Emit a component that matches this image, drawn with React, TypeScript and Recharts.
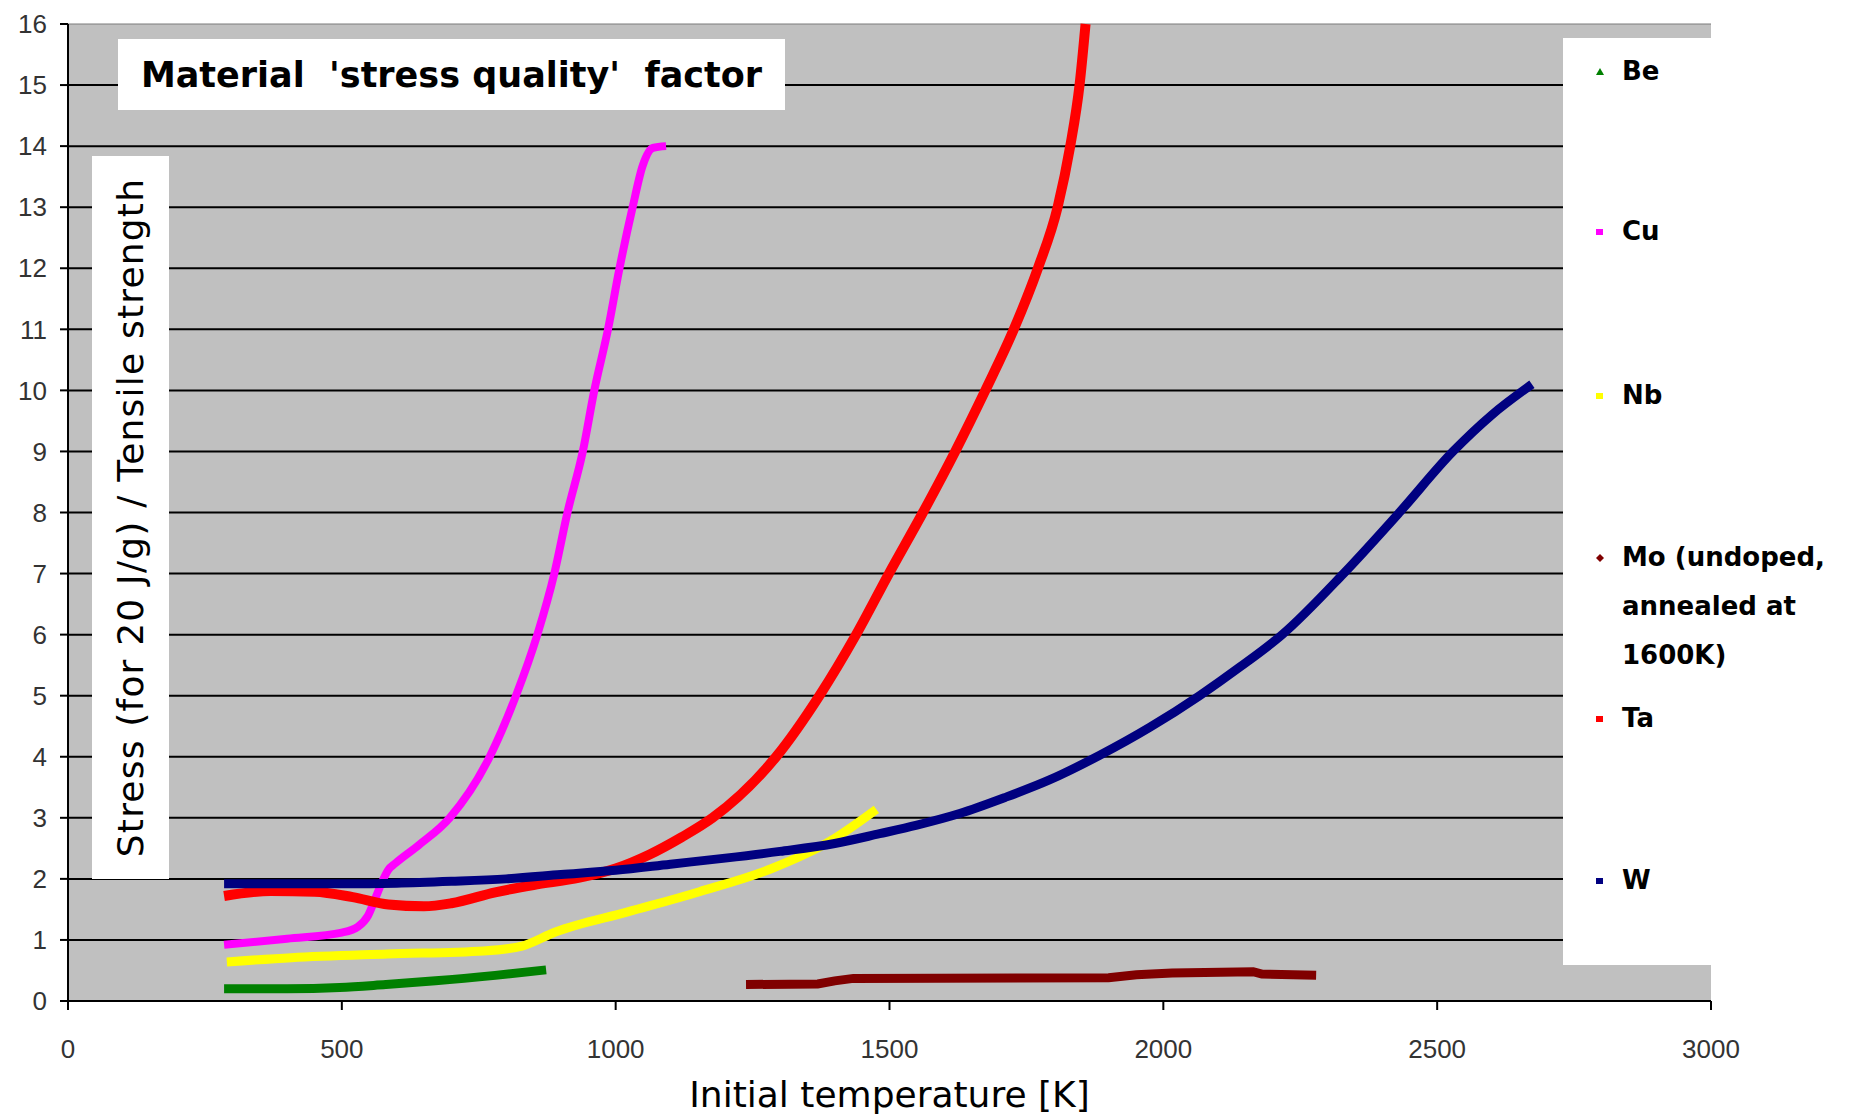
import React from 'react'
import { LineChart, Line, XAxis, YAxis, CartesianGrid, ReferenceLine, Label } from 'recharts'

// ─── Data (temperature K, stress / tensile strength) ──────────────────────────

const xTicks = [0, 500, 1000, 1500, 2000, 2500, 3000]
const yTicks = [0, 1, 2, 3, 4, 5, 6, 7, 8, 9, 10, 11, 12, 13, 14, 15, 16]
const gridLines = [1, 2, 3, 4, 5, 6, 7, 8, 9, 10, 11, 12, 13, 14, 15]

const bePoints: [number, number][] = [
  [285, 0.2], [400, 0.2], [496, 0.22], [580, 0.27], [671, 0.33], [780, 0.42], [873, 0.51],
]

const cuPoints: [number, number][] = [
  [285, 0.92], [400, 1.02], [500, 1.12], [530, 1.22], [548, 1.4], [562, 1.7], [575, 1.98],
  [585, 2.15], [597, 2.25], [640, 2.55], [697, 3.0], [770, 4.0], [818, 5.0], [857, 6.0],
  [888, 7.0], [912, 8.0], [940, 9.0], [961, 10.0], [986, 11.0], [1007, 12.0], [1031, 13.0],
  [1049, 13.67], [1068, 13.97], [1092, 14.0],
]

const nbPoints: [number, number][] = [
  [290, 0.64], [408, 0.71], [583, 0.77], [759, 0.82], [829, 0.9], [890, 1.13], [1022, 1.46],
  [1153, 1.79], [1285, 2.17], [1390, 2.61], [1476, 3.14],
]

const moPoints: [number, number][] = [
  [1238, 0.27], [1369, 0.28], [1400, 0.33], [1434, 0.37], [1900, 0.38], [1951, 0.43],
  [2016, 0.46], [2164, 0.48], [2180, 0.44], [2279, 0.42],
]

const taPoints: [number, number][] = [
  [285, 1.72], [370, 1.8], [450, 1.79], [520, 1.7], [585, 1.58], [650, 1.55], [700, 1.6],
  [780, 1.78], [850, 1.9], [934, 2.02], [1000, 2.17], [1062, 2.4], [1120, 2.68], [1177, 3.0],
  [1293, 4.0], [1372, 5.0], [1439, 6.0], [1499, 7.0], [1561, 8.0], [1620, 9.0], [1675, 10.0],
  [1727, 11.0], [1771, 12.0], [1807, 13.0], [1830, 14.0], [1847, 15.0], [1858, 16.0],
]

const wPoints: [number, number][] = [
  [285, 1.92], [500, 1.92], [600, 1.93], [700, 1.96], [800, 2.0], [900, 2.07], [1000, 2.14],
  [1100, 2.24], [1200, 2.34], [1300, 2.45], [1400, 2.58], [1482, 2.74], [1550, 2.88],
  [1628, 3.07], [1710, 3.33], [1792, 3.62], [1883, 4.02], [1975, 4.48], [2066, 5.0],
  [2140, 5.47], [2217, 6.0], [2329, 7.0], [2431, 8.0], [2529, 9.0], [2600, 9.6], [2673, 10.1],
]

const toRows = (pts: [number, number][]) => pts.map(([t, v]) => ({ t, v }))

const COMIC = "'Comic Sans MS', 'DejaVu Sans', sans-serif"
const TICK_FONT = "'Liberation Sans', Arial, sans-serif"

// legend order as in the original workbook
const series = [
  { name: 'Be', color: '#008000', marker: 'triangle', points: bePoints, width: 9, top: 47 },
  { name: 'Cu', color: '#ff00ff', marker: 'square', points: cuPoints, width: 8, top: 207 },
  { name: 'Nb', color: '#ffff00', marker: 'square', points: nbPoints, width: 9, top: 371 },
  { name: 'Mo (undoped, annealed at 1600K)', color: '#800000', marker: 'diamond', points: moPoints, width: 9, top: 533 },
  { name: 'Ta', color: '#ff0000', marker: 'square', points: taPoints, width: 10, top: 694 },
  { name: 'W', color: '#000080', marker: 'square', points: wPoints, width: 9, top: 856 },
]

function Marker({ shape, color }: { shape: string; color: string }) {
  return (
    <svg width={10} height={10} style={{ position: 'absolute', left: -27, top: 20 }}>
      {shape === 'triangle' && <polygon points="5,1 9,8 1,8" fill={color} />}
      {shape === 'square' && <rect x={1} y={2} width={7} height={6} fill={color} />}
      {shape === 'diamond' && <polygon points="5,1 9,5 5,9 1,5" fill={color} />}
    </svg>
  )
}

export default function App() {
  return (
    <div style={{ position: 'absolute', left: 0, top: 0, width: 1850, height: 1117, background: '#fff' }}>
      <LineChart width={1850} height={1117} margin={{ top: 24, right: 139, bottom: 0, left: 0 }}>
        <CartesianGrid
          fill="#c0c0c0"
          stroke="#000"
          strokeWidth={2}
          vertical={false}
          horizontalValues={gridLines}
        />
        <ReferenceLine y={16} stroke="#7a7a7a" strokeWidth={1} />
        <XAxis
          type="number"
          dataKey="t"
          domain={[0, 3000]}
          ticks={xTicks}
          height={116}
          tickSize={9}
          tickMargin={30}
          axisLine={{ stroke: '#000', strokeWidth: 2 }}
          tickLine={{ stroke: '#000', strokeWidth: 2 }}
          tick={{ fill: '#333', fontSize: 26, fontFamily: TICK_FONT }}
        >
          <Label
            value="Initial temperature [K]"
            position="insideBottom"
            offset={10}
            style={{ fontSize: 36, fontFamily: COMIC, fill: '#000' }}
          />
        </XAxis>
        <YAxis
          type="number"
          domain={[0, 16]}
          ticks={yTicks}
          width={68}
          tickSize={8}
          tickMargin={13}
          axisLine={{ stroke: '#000', strokeWidth: 2 }}
          tickLine={{ stroke: '#000', strokeWidth: 2 }}
          tick={{ fill: '#333', fontSize: 26, fontFamily: TICK_FONT }}
        />
        {series.map((s) => (
          <Line
            key={s.name}
            data={toRows(s.points)}
            dataKey="v"
            type={s.name.startsWith('Mo') ? 'linear' : 'monotone'}
            stroke={s.color}
            strokeWidth={s.width}
            dot={false}
            activeDot={false}
            isAnimationActive={false}
          />
        ))}
      </LineChart>

      {/* chart title box */}
      <div
        style={{
          position: 'absolute', left: 118, top: 39, width: 667, height: 71, background: '#fff',
          display: 'flex', alignItems: 'center', justifyContent: 'center',
          fontFamily: COMIC, fontWeight: 'bold', fontSize: 35, color: '#000', whiteSpace: 'pre',
        }}
      >
        Material  'stress quality'  factor
      </div>

      {/* y axis title box */}
      <div
        style={{
          position: 'absolute', left: 92, top: 156, width: 77, height: 723, background: '#fff',
          display: 'flex', alignItems: 'center', justifyContent: 'center',
        }}
      >
        <span
          style={{
            whiteSpace: 'nowrap', transform: 'rotate(-90deg)', fontFamily: COMIC,
            fontSize: 36, letterSpacing: 1.2, color: '#000', flexShrink: 0,
          }}
        >
          Stress (for 20 J/g) / Tensile strength
        </span>
      </div>

      {/* legend */}
      <div style={{ position: 'absolute', left: 1563, top: 38, width: 287, height: 927, background: '#fff' }}>
        {series.map((s) => (
          <div
            key={s.name}
            style={{
              position: 'absolute', left: 59, top: s.top - 38, width: 225,
              fontFamily: COMIC, fontWeight: 'bold', fontSize: 26, lineHeight: '49px', color: '#000',
            }}
          >
            <Marker shape={s.marker} color={s.color} />
            {s.name.startsWith('Mo') ? (
              <>
                Mo (undoped,<br />annealed at<br />1600K)
              </>
            ) : (
              s.name
            )}
          </div>
        ))}
      </div>
    </div>
  )
}
